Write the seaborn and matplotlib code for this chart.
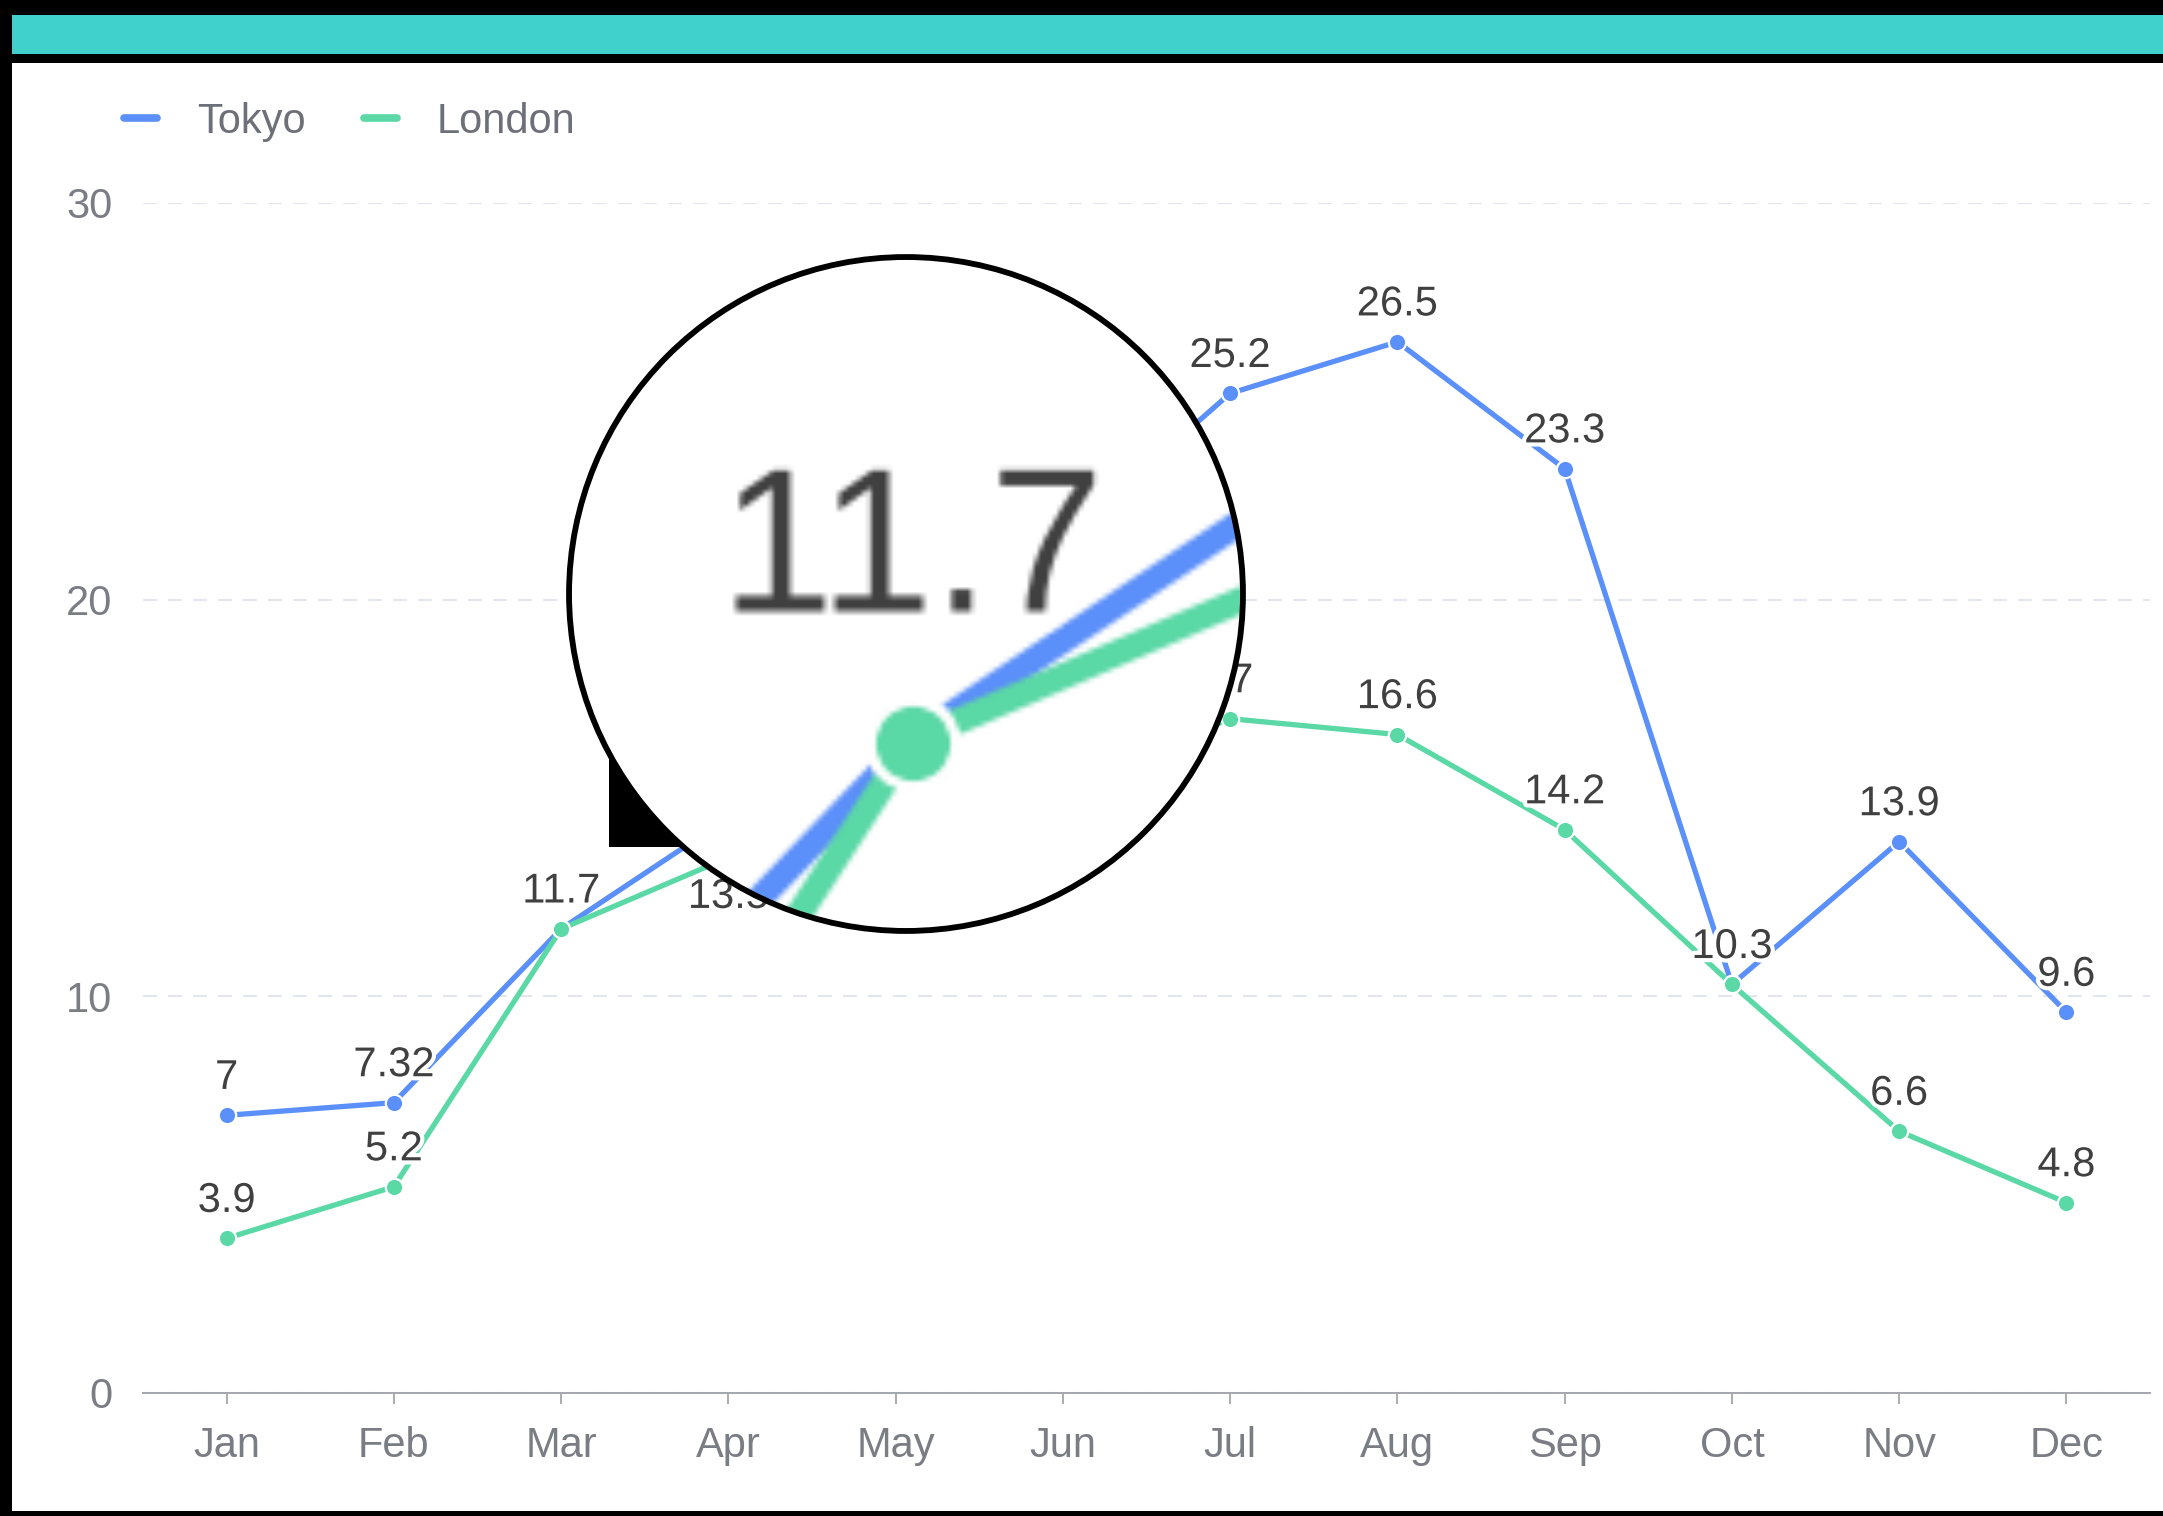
import numpy as np
import pandas as pd
import matplotlib
matplotlib.use("Agg")
import matplotlib.pyplot as plt
from matplotlib.patches import Rectangle, Circle
from matplotlib.lines import Line2D
import matplotlib.patheffects as pe
import seaborn as sns

# ---- data -------------------------------------------------------------
months = ["Jan", "Feb", "Mar", "Apr", "May", "Jun",
          "Jul", "Aug", "Sep", "Oct", "Nov", "Dec"]
tokyo = [7, 7.32, 11.7, 14.5, 18.2, 21.5, 25.2, 26.5, 23.3, 10.3, 13.9, 9.6]
london = [3.9, 5.2, 11.7, 13.5, 11.9, 15.2, 17, 16.6, 14.2, 10.3, 6.6, 4.8]
series_names = ["Tokyo", "London"]
series_colors = ["#5B8FF9", "#5AD8A6"]
y_ticks = [0, 10, 20, 30]

W, H = 2163, 1516

sns.set_theme(style="white")
plt.rcParams["font.family"] = ["Liberation Sans", "DejaVu Sans"]
plt.rcParams["lines.scale_dashes"] = False

df = pd.DataFrame({
    "month": months * 2,
    "temp": tokyo + london,
    "city": ["Tokyo"] * len(months) + ["London"] * len(months),
})

fig = plt.figure(figsize=(W / 100, H / 100), dpi=100, facecolor="black")

# frame: black border, teal header strip, white panel
bg = fig.add_axes([0, 0, 1, 1], zorder=0)
bg.set_xlim(0, W)
bg.set_ylim(H, 0)
bg.axis("off")
bg.add_patch(Rectangle((12, 63), W - 12, 1511 - 63, facecolor="white", edgecolor="none"))
bg.add_patch(Rectangle((12, 15), W - 12, 39, facecolor="#40D1CD", edgecolor="none"))

# ---- line chart -------------------------------------------------------
ax = fig.add_axes([143 / W, 1 - 1393 / H, (2150 - 143) / W, (1393 - 203) / H], zorder=1)
ax.patch.set_visible(False)
sns.lineplot(data=df, x="month", y="temp", hue="city", hue_order=series_names,
             palette=series_colors, sort=False, estimator=None,
             marker="o", markersize=12.5, markeredgecolor="white", markeredgewidth=1.6,
             linewidth=3.8, legend=False, ax=ax)

ax.set_xlim(-0.5, len(months) - 0.5)
ax.set_ylim(0, 30)
ax.set_yticks(y_ticks)
ax.set_xlabel("")
ax.set_ylabel("")
for side in ["top", "right", "left"]:
    ax.spines[side].set_visible(False)
ax.spines["bottom"].set_color("#a4a6ad")
ax.spines["bottom"].set_linewidth(1.4)
ax.yaxis.grid(True, color="#e3e6ec", linewidth=1.5, linestyle=(0, (10, 8)))
ax.xaxis.grid(False)
ax.set_axisbelow(True)
ax.tick_params(axis="y", left=False, length=0, pad=22, labelsize=30, labelcolor="#7b7d85")
ax.tick_params(axis="x", bottom=True, length=8, width=1.3, color="#a4a6ad", pad=16,
               labelsize=30, labelcolor="#7b7d85")

# value labels with a white halo
halo = [pe.withStroke(linewidth=6, foreground="white")]
labels_below = {("London", "Apr")}
for name, vals, other in [("Tokyo", tokyo, london), ("London", london, None)]:
    for i, v in enumerate(vals):
        if other is not None and other[i] == v:
            continue  # shared point: the label is drawn once, with the top series
        txt = f"{v:g}"
        if (name, months[i]) in labels_below:
            ax.annotate(txt, (i, v), xytext=(0, -14), textcoords="offset points",
                        ha="center", va="top", fontsize=30, color="#404040",
                        path_effects=halo, zorder=6)
        else:
            ax.annotate(txt, (i, v), xytext=(0, 19), textcoords="offset points",
                        ha="center", va="baseline", fontsize=30, color="#404040",
                        path_effects=halo, zorder=6)

# legend
handles = [Line2D([], [], color=c, lw=5.5, solid_capstyle="round") for c in series_colors]
fig.legend(handles, series_names, loc="center left", bbox_to_anchor=(124 / W, 1 - 122 / H),
           ncol=2, frameon=False, fontsize=30, handlelength=0.8, handletextpad=0.95,
           columnspacing=1.4, borderaxespad=0, borderpad=0, labelcolor="#6e7079")

# ---- magnifier lens over the March point -------------------------------
fig.canvas.draw()
img = np.asarray(fig.canvas.buffer_rgba()).copy()

lens_cx, lens_cy, lens_r, zoom = 906, 594, 339, 4.9
mx, my = ax.transData.transform((2, 11.7))
src_x, src_y = mx - 1.0, (H - my) - 30.0
half = lens_r / zoom
y0, y1 = int(round(src_y - half)), int(round(src_y + half))
x0, x1 = int(round(src_x - half)), int(round(src_x + half))
crop = img[y0:y1, x0:x1]

ov = fig.add_axes([0, 0, 1, 1], zorder=4)
ov.set_xlim(0, W)
ov.set_ylim(H, 0)
ov.axis("off")
ov.add_patch(Rectangle((609, 600), 300, 247, facecolor="black", edgecolor="none"))

lens = fig.add_axes([(lens_cx - lens_r) / W, 1 - (lens_cy + lens_r) / H,
                     2 * lens_r / W, 2 * lens_r / H], zorder=5)
lens.axis("off")
im = lens.imshow(crop, extent=(0, 1, 0, 1), interpolation="bilinear", aspect="auto")
lens.set_xlim(0, 1)
lens.set_ylim(0, 1)
clip = Circle((0.5, 0.5), 0.5, transform=lens.transAxes)
im.set_clip_path(clip)
lens.add_patch(Circle((0.5, 0.5), 0.497, transform=lens.transAxes, fill=False,
                      edgecolor="black", linewidth=4.2, clip_on=False))

fig.savefig("out.png", dpi=100, facecolor="black")
